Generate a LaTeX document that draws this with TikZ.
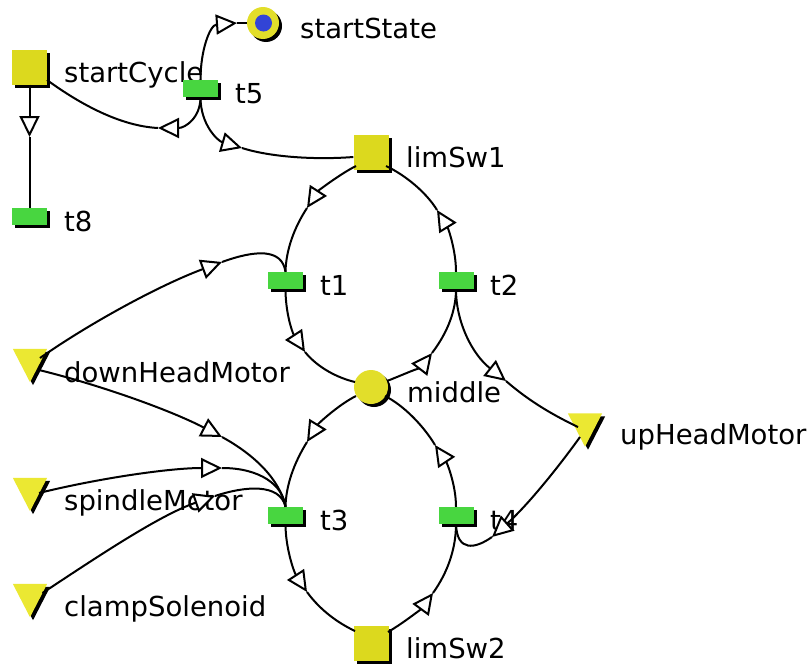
\documentclass[tikz,border=0pt]{standalone}
\usepackage{fontspec}
\setmainfont{DejaVu Sans}
\usetikzlibrary{arrows.meta,shadows}
\definecolor{sqyellow}{RGB}{220,217,30}
\definecolor{cyellow}{RGB}{226,222,42}
\definecolor{tyellow}{RGB}{235,232,50}
\definecolor{tgreen}{RGB}{72,214,64}
\definecolor{sblue}{RGB}{50,68,214}
\newcommand\outtri[1]{%
  \fill[black] ([shift={(3,3)}]#1.north west) -- ([shift={(3,3)}]#1.north east) -- ([shift={(3,3)}]#1.south) -- cycle;
  \fill[tyellow] (#1.north west) -- (#1.north east) -- (#1.south) -- cycle;}
\begin{document}
\begin{tikzpicture}[x=1pt,y=-1pt,
  shad/.style={drop shadow={shadow xshift=3pt,shadow yshift=-3pt,fill=black,opacity=1}},
  trans/.style={rectangle,fill=tgreen,minimum width=35pt,minimum height=17pt,inner sep=0pt,shad},
  sqplace/.style={rectangle,fill=sqyellow,minimum size=35pt,inner sep=0pt,shad},
  cplace/.style={circle,fill=cyellow,minimum size=34pt,inner sep=0pt,shad},
  outp/.style={rectangle,minimum width=34pt,minimum height=33pt,inner sep=0pt},
  lbl/.style={anchor=base west,inner sep=0pt,font=\fontsize{27.5}{33}\selectfont},
  arc/.style={draw=black,line width=2pt},
  oarr/.style={arc,-{Triangle[length=21pt,width=20pt,fill=white]}}]
\useasboundingbox (0,0) rectangle (809,664);
% labels
\node[lbl] (Lss) at (300,38) {startState};
\node[lbl] (Lsc) at (64,82) {startCycle};
\node[lbl] (Lt5) at (235,103) {t5};
\node[lbl] (Ll1) at (406,167) {limSw1};
\node[lbl] (Lt8) at (64,231) {t8};
\node[lbl] (Lt1) at (320,295) {t1};
\node[lbl] (Lt2) at (490,295) {t2};
\node[lbl] (Ldhm) at (64,382) {downHeadMotor};
\node[lbl] (Lmid) at (407,402) {middle};
\node[lbl] (Luhm) at (620,444) {upHeadMotor};
\node[lbl] (Lsm) at (64,510) {spindleMotor};
\node[lbl] (Lt3) at (320,530) {t3};
\node[lbl] (Lt4) at (490,530) {t4};
\node[lbl] (Lcs) at (64,616) {clampSolenoid};
\node[lbl] (Ll2) at (406,658) {limSw2};
% nodes
\node[circle,fill=cyellow,minimum size=32pt,inner sep=0pt,shad] (ss) at (263,23) {};
\node[circle,fill=sblue,minimum size=17pt,inner sep=0pt] (ssdot) at (263.5,23) {};
\node[sqplace] (sc) at (29.5,67) {};
\node[trans] (t5) at (200.5,88.5) {};
\node[trans] (t8) at (29.5,216.5) {};
\node[sqplace] (l1) at (371,152) {};
\node[trans] (t1) at (285.5,280.5) {};
\node[trans] (t2) at (456,280.5) {};
\node[cplace] (mid) at (371,387) {};
\node[trans] (t3) at (285.5,515.5) {};
\node[trans] (t4) at (456,515.5) {};
\node[sqplace] (l2) at (371,643) {};
\node[outp] (dhm) at (30,365.5) {};
\node[outp] (sm) at (30,494.5) {};
\node[outp] (cs) at (30,600.5) {};
\node[outp] (uhm) at (585,430) {};
\outtri{dhm}\outtri{sm}\outtri{cs}\outtri{uhm}
% arrow tip points
\coordinate (k1) at (29.5,137);
\coordinate (k2) at (158,128);
\coordinate (k3) at (237,23);
\coordinate (k4) at (242,148);
\coordinate (k5) at (307,208);
\coordinate (k6) at (437,210);
\coordinate (k7) at (305,352);
\coordinate (k8) at (432,353);
\coordinate (k9) at (307,442);
\coordinate (k10) at (435,445);
\coordinate (k11) at (307,592);
\coordinate (k12) at (433,593);
\coordinate (k13) at (506,381);
\coordinate (k14) at (492,537);
\coordinate (k15) at (222,262);
\coordinate (k16) at (222,437);
\coordinate (k17) at (222,468);
\coordinate (k18) at (215,496);
% arcs
\draw[oarr] (sc.south) -- (k1);
\draw[arc] (k1) -- (t8.north);
\draw[oarr] (t5.south) .. controls (200.5,118) and (185,128) .. (k2);
\draw[arc] (k2) .. controls (120,126) and (80,104) .. ([shift={(17.5,13)}]sc.center);
\draw[oarr] (t5.north) .. controls (200.5,50) and (210,25) .. (k3);
\draw[arc] (k3) -- (ss.west);
\draw[oarr] (t5.south) .. controls (200.5,125) and (218,141) .. (k4);
\draw[arc] (k4) .. controls (270,157) and (315,160) .. ([shift={(0,5)}]l1.west);
\draw[oarr] ([shift={(-15,14)}]l1.center) .. controls (340,174) and (318,191) .. (k5);
\draw[arc] (k5) .. controls (294,228) and (286,250) .. (t1.north);
\draw[oarr] (t2.north) .. controls (456,250) and (448,228) .. (k6);
\draw[arc] (k6) .. controls (426,192) and (405,175) .. ([shift={(15,14)}]l1.center);
\draw[oarr] (t1.south) .. controls (285.5,312) and (292,332) .. (k7);
\draw[arc] (k7) .. controls (318,368) and (338,378) .. ([shift={(-16,-5)}]mid.center);
\draw[oarr] ([shift={(16,-6)}]mid.center) .. controls (405,374) and (422,366) .. (k8);
\draw[arc] (k8) .. controls (448,332) and (456,310) .. (t2.south);
\draw[oarr] ([shift={(-15,9)}]mid.center) .. controls (338,405) and (318,424) .. (k9);
\draw[arc] (k9) .. controls (294,463) and (286,485) .. (t3.north);
\draw[oarr] (t4.north) .. controls (456,485) and (447,463) .. (k10);
\draw[arc] (k10) .. controls (423,425) and (403,405) .. ([shift={(14,9)}]mid.center);
\draw[oarr] (t3.south) .. controls (285.5,548) and (294,572) .. (k11);
\draw[arc] (k11) .. controls (320,610) and (338,623) .. ([shift={(-16,-12)}]l2.center);
\draw[oarr] ([shift={(17,-11)}]l2.center) .. controls (405,622) and (422,608) .. (k12);
\draw[arc] (k12) .. controls (448,572) and (456,548) .. (t4.south);
\draw[oarr] (t2.south) .. controls (456,322) and (472,354) .. (k13);
\draw[arc] (k13) .. controls (530,402) and (555,416) .. ([shift={(-7,-3)}]uhm.center);
\draw[oarr] ([shift={(-5,7)}]uhm.center) .. controls (560,465) and (528,505) .. (k14);
\draw[arc] (k14) .. controls (475,549) and (457,552) .. (t4.south);
\draw[oarr] ([shift={(10,-7.5)}]dhm.center) .. controls (90,323) and (160,285) .. (k15);
\draw[arc] (k15) .. controls (255,250) and (282,248) .. (t1.north);
\draw[oarr] ([shift={(9,4.5)}]dhm.center) .. controls (100,385) and (170,410) .. (k16);
\draw[arc] (k16) .. controls (255,455) and (280,480) .. (t3.north);
\draw[oarr] ([shift={(9,-1.5)}]sm.center) .. controls (100,478) and (170,468) .. (k17);
\draw[arc] (k17) .. controls (260,468) and (283,485) .. (t3.north);
\draw[oarr] ([shift={(12.5,-7.5)}]cs.center) .. controls (100,555) and (160,515) .. (k18);
\draw[arc] (k18) .. controls (245,486) and (280,483) .. (t3.north);
\end{tikzpicture}
\end{document}
